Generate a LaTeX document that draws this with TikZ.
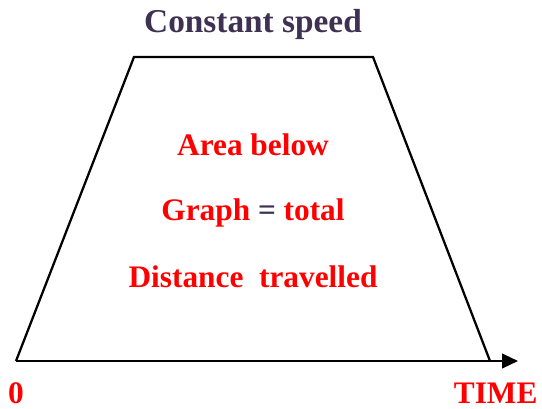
\documentclass[tikz,border=0pt]{standalone}
\usepackage{fontspec}
\setmainfont{Liberation Serif}
\usetikzlibrary{arrows.meta, positioning}
\definecolor{cred}{HTML}{FF0000}
\definecolor{cplum}{HTML}{3F3151}
\tikzset{
  every picture/.style={x=0.75pt, y=0.75pt, line width=1.7pt},
  title/.style={font=\fontsize{25}{28}\selectfont\bfseries, text=cplum, anchor=base},
  note/.style={font=\fontsize{23.5}{27}\selectfont\bfseries, text=cred, anchor=base},
  axis/.style={-{Triangle[length=12pt, width=11pt]}, draw=black},
}
\begin{document}
\begin{tikzpicture}
  \useasboundingbox (0,0) rectangle (542,408);
  % corners of the speed graph
  \coordinate (o) at (16,47);
  \coordinate (tl) at (134,351);
  \coordinate (tr) at (373,351);
  \coordinate (br) at (490,47);
  \coordinate (tip) at (518,47);
  \draw[line join=miter] (o) -- (tl) -- (tr) -- (br);
  \draw[axis] (o) -- (tip);
  \node[title] (speed) at (253,375) {Constant speed};
  \node[note] (area) at (253,253) {Area below};
  \node[note] (graph) at (253,188) {Graph {\color{cplum}=} total};
  \node[note] (dist) at (253,121) {Distance\ \ travelled};
  \node[note] (zero) at (16,5) {0};
  \node[note, anchor=base east] (time) at (543,5) {TIME};
\end{tikzpicture}
\end{document}
